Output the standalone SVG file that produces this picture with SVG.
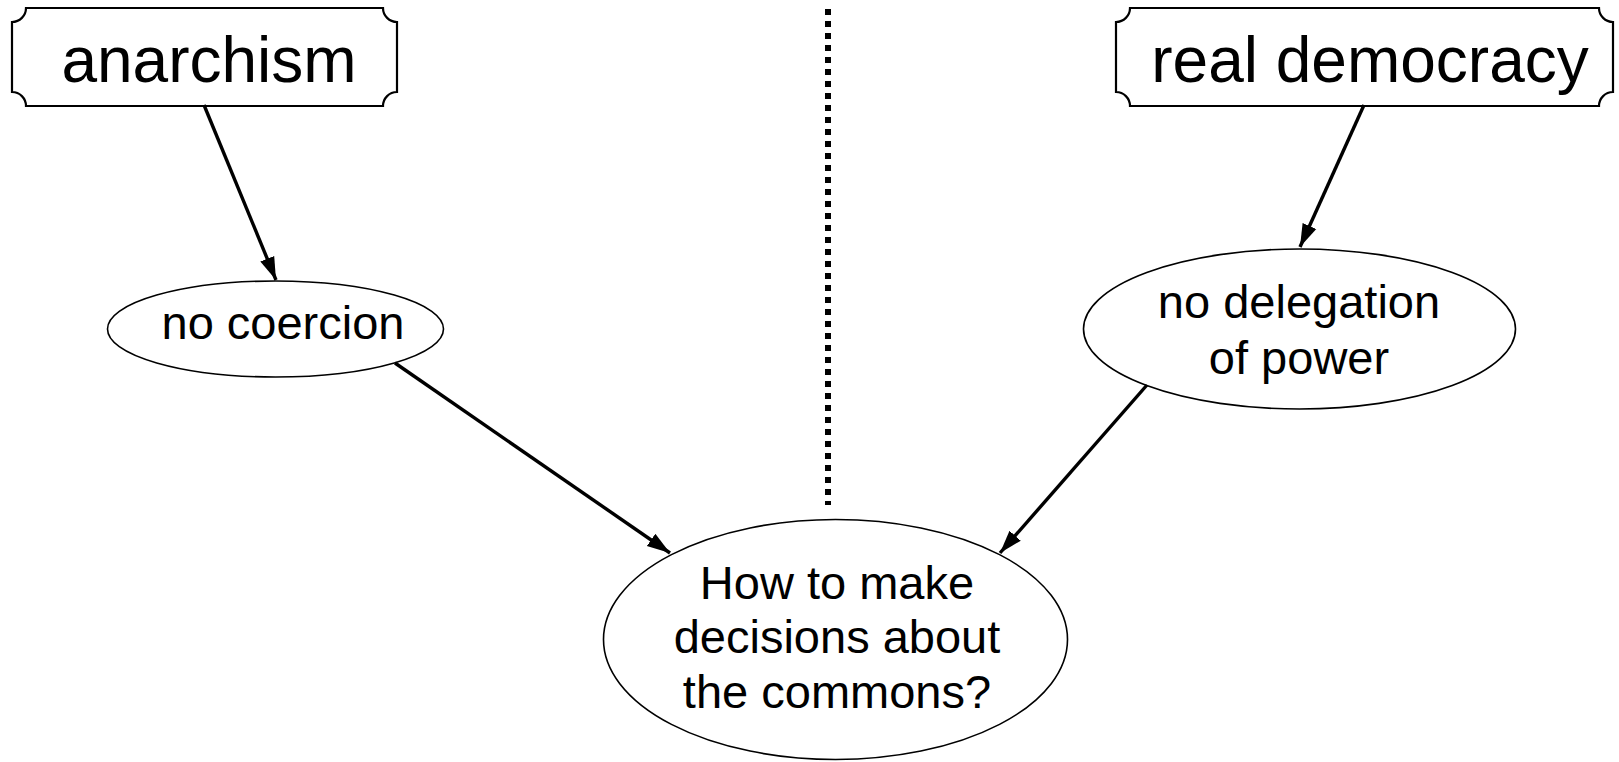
<svg xmlns="http://www.w3.org/2000/svg" width="1619" height="762" viewBox="0 0 1619 762">
<style>
.box{fill:#fff;stroke:#000;stroke-width:2.2}
.ell{fill:#fff;stroke:#000;stroke-width:1.6}
.t{font-family:"Liberation Sans",Arial,sans-serif;fill:#000;text-anchor:middle}
.big{font-size:64px}
.mid{font-size:47px}
.edge{stroke:#000;stroke-width:3.4;fill:none;marker-end:url(#ah)}
.div{stroke:#000;stroke-width:6;stroke-dasharray:6 6;fill:none}
</style>
<defs>
<marker id="ah" markerUnits="userSpaceOnUse" markerWidth="24" markerHeight="18" viewBox="0 0 24 18" refX="23" refY="9" orient="auto">
<path d="M0,1.5 L23,9 L0,16.5 Z" fill="#000"/>
</marker>
</defs>
<rect width="1619" height="762" fill="#fff"/>
<line class="div" x1="828" y1="9" x2="828" y2="505"/>
<g id="anarchism">
<path class="box" d="M26,8 H383 A14,14 0 0 0 397,22 V92 A14,14 0 0 0 383,106 H26 A14,14 0 0 0 12,92 V22 A14,14 0 0 0 26,8 Z"/>
<text class="t big" x="209" y="82">anarchism</text>
</g>
<g id="real-democracy">
<path class="box" d="M1130,8 H1599 A14,14 0 0 0 1613,22 V92 A14,14 0 0 0 1599,106 H1130 A14,14 0 0 0 1116,92 V22 A14,14 0 0 0 1130,8 Z"/>
<text class="t big" x="1370" y="82">real democracy</text>
</g>
<g id="no-coercion">
<ellipse class="ell" cx="275.5" cy="329" rx="168" ry="48"/>
<text class="t mid" x="283" y="339">no coercion</text>
</g>
<g id="no-delegation">
<ellipse class="ell" cx="1299.5" cy="329" rx="216" ry="80"/>
<text class="t mid" x="1299" y="318">no delegation</text>
<text class="t mid" x="1299" y="374">of power</text>
</g>
<g id="decisions">
<ellipse class="ell" cx="835.5" cy="639.5" rx="232" ry="120"/>
<text class="t mid" x="837" y="599">How to make</text>
<text class="t mid" x="837" y="653">decisions about</text>
<text class="t mid" x="837" y="708">the commons?</text>
</g>
<g id="connectors">
<line class="edge" x1="204" y1="105" x2="276" y2="280"/>
<line class="edge" x1="395" y1="363" x2="670" y2="553"/>
<line class="edge" x1="1364" y1="105" x2="1300" y2="247"/>
<line class="edge" x1="1147" y1="385" x2="1000" y2="553"/>
</g>
</svg>
